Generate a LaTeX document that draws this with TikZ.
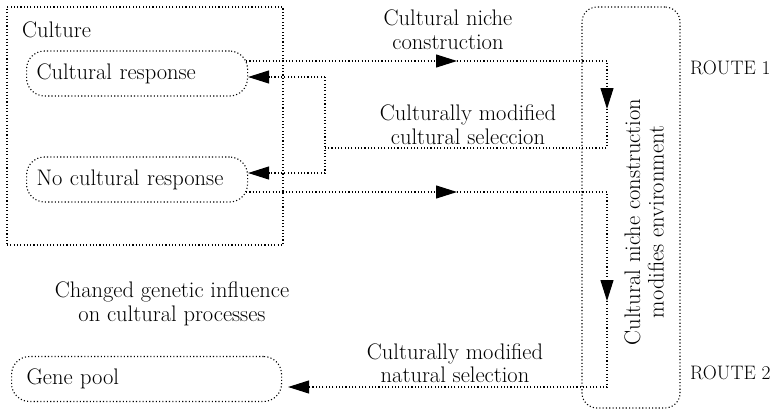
\documentclass[tikz,border=0pt]{standalone}
\usetikzlibrary{arrows.meta}
\tikzset{
  dots/.style={line width=1.1pt, dash pattern=on 1.1pt off 2.2pt},
  tip/.style={-{Triangle[length=21pt,width=13pt]}},
  txt/.style={font=\fontsize{22.5}{23.5}\selectfont, align=center, inner sep=0pt},
  routetxt/.style={font=\fontsize{19.5}{23.5}\selectfont, inner sep=0pt, anchor=west},
  pill/.style={draw, dots, rounded corners=18pt, minimum height=45pt, inner ysep=0pt,
    anchor=west, font=\fontsize{22.5}{23.5}\selectfont, align=left}
}
\begin{document}
\begin{tikzpicture}[x=1pt,y=-1pt]
\useasboundingbox (0,0) rectangle (780,413);
% containers
\node[draw, dots, minimum width=276pt, minimum height=238pt, inner sep=0pt] (culture) at (145,126) {};
\node[txt, anchor=base west] (culturelbl) at (22,37) {Culture};
\node[draw, dots, rounded corners=15pt, minimum width=98pt, minimum height=401pt, inner sep=0pt] (env) at (631,207.5) {};
\node[txt, rotate=90] (envtxt) at (644,222) {Cultural niche construction\\modifies environment};
% pills
\node[pill, text width=201pt, inner xsep=10pt] (cr) at (26,73.5) {Cultural response};
\node[pill, text width=201pt, inner xsep=10pt] (nc) at (26,179.5) {No cultural response};
\node[pill, text width=240pt, inner xsep=15pt] (gp) at (11,379) {Gene pool};
% labels
\node[txt] (l1) at (448,29.5) {Cultural niche\\construction};
\node[txt] (l2) at (468,124.5) {Culturally modified\\cultural seleccion};
\node[txt] (l3) at (172,304) {Changed genetic influence\\on cultural processes};
\node[txt] (l4) at (455,363) {Culturally modified\\natural selection};
\node[routetxt] (r1) at (690,68) {ROUTE 1};
\node[routetxt] (r2) at (690,373) {ROUTE 2};
% route 1 coordinates
\coordinate (a1) at ([xshift=-2pt,yshift=12.5pt]cr.east);
\coordinate (m1) at (457,61);
\coordinate (c1) at (607,61);
\coordinate (m2) at (607,109);
\coordinate (c2) at (607,148);
\coordinate (f) at (325,148);
\coordinate (f1) at (325,77);
\coordinate (f2) at (325,173);
\draw[dots, tip] (a1) -- (m1);
\draw[dots, tip] (m1) -- (c1) -- (m2);
\draw[dots] (m2) -- (c2) -- (f);
\draw[dots] (f1) -- (f2);
\draw[dots, tip] (f1) -- ([yshift=-3.5pt]cr.east);
\draw[dots, tip] (f2) -- ([yshift=6.5pt]nc.east);
% route 2
\coordinate (a2) at ([xshift=-2pt,yshift=-12.5pt]nc.east);
\coordinate (m3) at (457,192);
\coordinate (c3) at (607,192);
\coordinate (m4) at (607,301);
\coordinate (c4) at (607,387);
\draw[dots, tip] (a2) -- (m3);
\draw[dots, tip] (m3) -- (c3) -- (m4);
\draw[dots, tip] (m4) -- (c4) -- ([xshift=6pt,yshift=-8pt]gp.east);
\end{tikzpicture}
\end{document}
